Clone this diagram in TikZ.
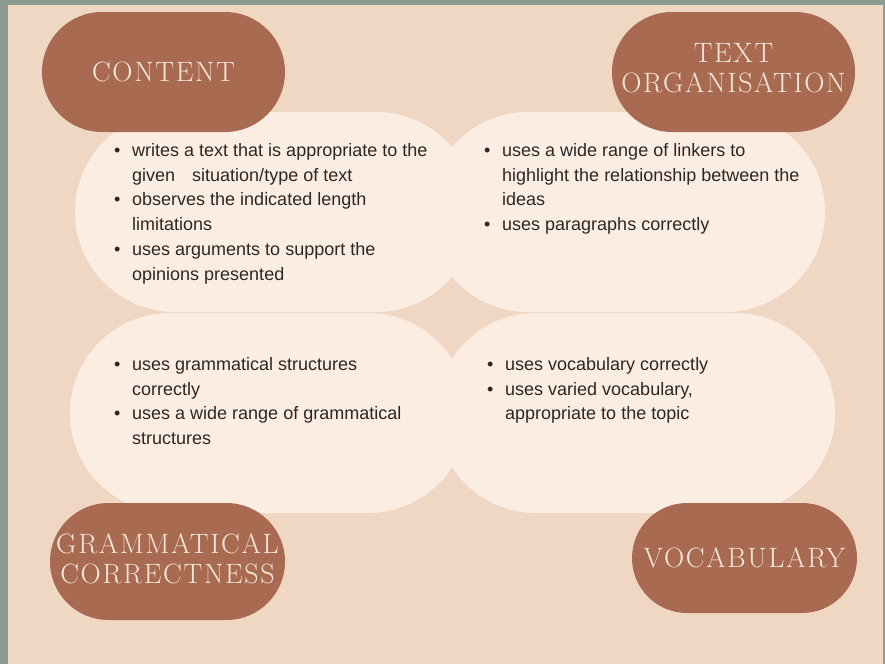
\documentclass[tikz,border=0pt]{standalone}
\usepackage{fontspec}
\newfontfamily\listfont{Liberation Sans}
\newfontfamily\capfont{lmroman17-regular.otf}[LetterSpace=6]
\usetikzlibrary{positioning}

\definecolor{marble}{HTML}{8E9B91}
\definecolor{sand}{HTML}{F0D7C4}
\definecolor{cream}{HTML}{FCEDE3}
\definecolor{clay}{HTML}{A96A52}
\definecolor{captext}{HTML}{F6E7DB}
\definecolor{ink}{HTML}{2A2826}

\newcommand{\bpt}{\makebox[18pt][l]{\textbullet}}
\newcommand{\cont}{\hspace*{18pt}}

\tikzset{
  lightpill/.style 2 args={fill=cream, rectangle, rounded corners=#2/2,
    minimum width=#1, minimum height=#2, inner sep=0pt},
  captitle/.style={text=captext, align=center, inner sep=0pt,
    font={\capfont\fontsize{28pt}{30pt}\selectfont}},
  cappill/.style 2 args={fill=clay, rectangle, rounded corners=#2/2,
    minimum width=#1, minimum height=#2, captitle},
  listtext/.style={inner sep=0pt, align=left, text=ink, anchor=north west,
    font={\listfont\fontsize{18pt}{24.8pt}\selectfont}}
}

\begin{document}
\begin{tikzpicture}[x=1pt, y=-1pt]
    \useasboundingbox (0,0) rectangle (885,664);

    % Draw the marble frame and the sand page
    \fill[marble] (0,0) rectangle (885,664);
    \fill[sand] (8,5) rectangle (883,664);

    % Draw the four light boxes
    \node[lightpill={401pt}{200pt}] (contentbox) at (275.5,212) {};
    \node[lightpill={397pt}{200pt}] (orgbox) at (626.5,212) {};
    \node[lightpill={398pt}{200pt}] (grammarbox) at (269,413) {};
    \node[lightpill={399pt}{200pt}] (vocabbox) at (635.5,413) {};

    % Draw the bullet lists
    \node[listtext] (contenttext) at (114,143) {\bpt writes a text that is appropriate to the\\
      \cont given\hspace{12pt} situation/type of text\\
      \bpt observes the indicated length\\
      \cont limitations\\
      \bpt uses arguments to support the\\
      \cont opinions presented};
    \node[listtext] (orgtext) at (484,143) {\bpt uses a wide range of linkers to\\
      \cont highlight the relationship between the\\
      \cont ideas\\
      \bpt uses paragraphs correctly};
    \node[listtext] (grammartext) at (114,357) {\bpt uses grammatical structures\\
      \cont correctly\\
      \bpt uses a wide range of grammatical\\
      \cont structures};
    \node[listtext] (vocabtext) at (487,357) {\bpt uses vocabulary correctly\\
      \bpt uses varied vocabulary,\\
      \cont appropriate to the topic};

    % Draw the four headings
    \node[cappill={243pt}{120pt}] (contentcap) at (163.5,72) {CONTENT};
    \node[cappill={243pt}{120pt}] (orgcap) at (733.5,72) {};
    \node[captitle] (orgtitle) at (733.5,68) {TEXT\\ORGANISATION};
    \node[cappill={235pt}{117pt}] (grammarcap) at (167.5,561.5) {};
    \node[captitle] (grammartitle) at (167.5,559) {GRAMMATICAL\\CORRECTNESS};
    \node[cappill={225pt}{110pt}] (vocabcap) at (744.5,558) {VOCABULARY};
\end{tikzpicture}
\end{document}
